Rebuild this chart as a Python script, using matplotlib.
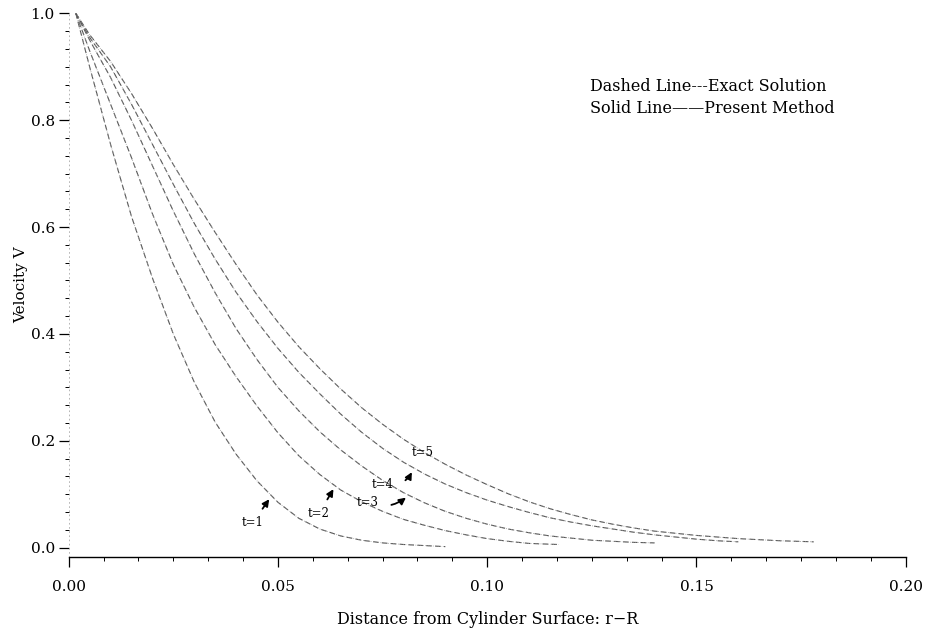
# Velocity profiles near a rotating cylinder: exact solution vs present method
import matplotlib
matplotlib.use("Agg")
import matplotlib.pyplot as plt
from matplotlib.ticker import MultipleLocator

plt.rcParams['font.family'] = ['DejaVu Serif']

# values
t1_x = [0.0017, 0.005, 0.010, 0.015, 0.020, 0.025, 0.030, 0.035, 0.040, 0.045,
        0.050, 0.055, 0.060, 0.065, 0.070, 0.075, 0.080, 0.085, 0.090]
t1_v = [1.00, 0.90, 0.755, 0.62, 0.505, 0.40, 0.31, 0.235, 0.175, 0.125,
        0.085, 0.055, 0.035, 0.022, 0.014, 0.009, 0.006, 0.004, 0.002]

t2_x = [0.0017, 0.005, 0.010, 0.015, 0.020, 0.025, 0.030, 0.035, 0.040, 0.045,
        0.050, 0.055, 0.060, 0.065, 0.070, 0.075, 0.080, 0.085, 0.090, 0.095,
        0.100, 0.105, 0.110, 0.117]
t2_v = [1.00, 0.93, 0.83, 0.73, 0.625, 0.53, 0.45, 0.38, 0.32, 0.265,
        0.215, 0.172, 0.137, 0.108, 0.086, 0.068, 0.053, 0.042, 0.032, 0.024,
        0.017, 0.012, 0.008, 0.006]

t3_x = [0.0017, 0.005, 0.010, 0.015, 0.020, 0.025, 0.030, 0.035, 0.040, 0.045,
        0.050, 0.055, 0.060, 0.065, 0.070, 0.075, 0.080, 0.085, 0.090, 0.095,
        0.100, 0.105, 0.110, 0.115, 0.120, 0.125, 0.130, 0.135, 0.140]
t3_v = [1.00, 0.95, 0.88, 0.80, 0.715, 0.63, 0.55, 0.477, 0.41, 0.352,
        0.30, 0.256, 0.217, 0.183, 0.153, 0.126, 0.103, 0.084, 0.068, 0.055,
        0.044, 0.035, 0.028, 0.022, 0.018, 0.014, 0.012, 0.010, 0.009]

t4_x = [0.0017, 0.005, 0.010, 0.015, 0.020, 0.025, 0.030, 0.035, 0.040, 0.045,
        0.050, 0.055, 0.060, 0.065, 0.070, 0.075, 0.080, 0.085, 0.090, 0.095,
        0.100, 0.105, 0.110, 0.115, 0.120, 0.125, 0.130, 0.135, 0.140, 0.145,
        0.150, 0.155, 0.160]
t4_v = [1.00, 0.955, 0.90, 0.83, 0.755, 0.68, 0.607, 0.54, 0.478, 0.423,
        0.373, 0.328, 0.288, 0.25, 0.216, 0.186, 0.16, 0.138, 0.119, 0.103,
        0.089, 0.077, 0.066, 0.056, 0.048, 0.041, 0.035, 0.029, 0.024, 0.020,
        0.016, 0.013, 0.011]

t5_x = [0.0017, 0.005, 0.010, 0.015, 0.020, 0.025, 0.030, 0.035, 0.040, 0.045,
        0.050, 0.055, 0.060, 0.065, 0.070, 0.075, 0.080, 0.085, 0.090, 0.095,
        0.100, 0.105, 0.110, 0.115, 0.120, 0.125, 0.130, 0.135, 0.140, 0.145,
        0.150, 0.155, 0.160, 0.165, 0.170, 0.178]
t5_v = [1.00, 0.96, 0.91, 0.85, 0.785, 0.717, 0.652, 0.59, 0.53, 0.473,
        0.422, 0.376, 0.335, 0.297, 0.262, 0.231, 0.203, 0.178, 0.156, 0.136,
        0.118, 0.101, 0.086, 0.073, 0.062, 0.052, 0.044, 0.037, 0.031, 0.027,
        0.023, 0.020, 0.017, 0.015, 0.013, 0.011]

curves = [(t1_x, t1_v), (t2_x, t2_v), (t3_x, t3_v), (t4_x, t4_v), (t5_x, t5_v)]
labels = ["t=1", "t=2", "t=3", "t=4", "t=5"]

fig = plt.figure(figsize=(9.28, 6.32), dpi=100)
ax = fig.add_axes([0.074, 0.119, 0.902, 0.86])

for x, v in curves:
    # exact solution (dashed) and present method drawn on top
    ax.plot(x, v, linestyle=(0, (5, 3)), color="#555555", linewidth=0.8)
    ax.plot(x, v, linestyle=(0, (1, 2)), color="#999999", linewidth=0.6)

ax.set_xlim(0, 0.20)
ax.set_ylim(-0.017, 1.0)
ax.xaxis.set_major_locator(MultipleLocator(0.05))
ax.xaxis.set_minor_locator(MultipleLocator(0.05 / 6))
ax.yaxis.set_major_locator(MultipleLocator(0.2))
ax.yaxis.set_minor_locator(MultipleLocator(0.2 / 6))
ax.xaxis.set_major_formatter(plt.FormatStrFormatter("%.2f"))
ax.yaxis.set_major_formatter(plt.FormatStrFormatter("%.1f"))
ax.tick_params(which="major", direction="out", length=7, width=0.9, labelsize=11)
ax.tick_params(axis="x", which="major", pad=10)
ax.tick_params(axis="y", which="major", pad=3)
ax.tick_params(which="minor", direction="out", length=3, width=0.7)

for s in ["top", "right"]:
    ax.spines[s].set_visible(False)
ax.spines["left"].set_color("#aaaaaa")
ax.spines["left"].set_linewidth(0.6)
ax.spines["left"].set_linestyle((0, (1, 4)))
ax.spines["bottom"].set_linewidth(1.0)

ax.set_xlabel("Distance from Cylinder Surface: r\u2212R", fontsize=11.5, labelpad=12)
ax.set_ylabel("Velocity V", fontsize=11, labelpad=2)

ax.text(0.1245, 0.855, "Dashed Line---Exact Solution", fontsize=11.5)
ax.text(0.1245, 0.813, "Solid Line\u2014\u2014Present Method", fontsize=11.5)

# curve labels and arrows
arrow = dict(arrowstyle="-|>", color="black", linewidth=1.3, mutation_scale=10)
ax.annotate(labels[0], xy=(0.0483, 0.095), xytext=(0.044, 0.047), fontsize=8.5,
            ha="center", va="center", arrowprops=dict(arrow, shrinkA=4))
ax.annotate(labels[1], xy=(0.0636, 0.114), xytext=(0.0598, 0.064), fontsize=8.5,
            ha="center", va="center", arrowprops=dict(arrow, shrinkA=4))
ax.annotate(labels[2], xy=(0.0811, 0.097), xytext=(0.0715, 0.084), fontsize=8.5,
            ha="center", va="center",
            arrowprops=dict(arrow, shrinkA=7, connectionstyle="arc3,rad=0.3"))
ax.annotate(labels[3], xy=(0.0823, 0.146), xytext=(0.0751, 0.118), fontsize=8.5,
            ha="center", va="center",
            arrowprops=dict(arrow, shrinkA=7, connectionstyle="arc3,rad=0.4"))
ax.text(0.0847, 0.179, labels[4], fontsize=8.5, ha="center", va="center")

fig.savefig("out.png", dpi=100)
